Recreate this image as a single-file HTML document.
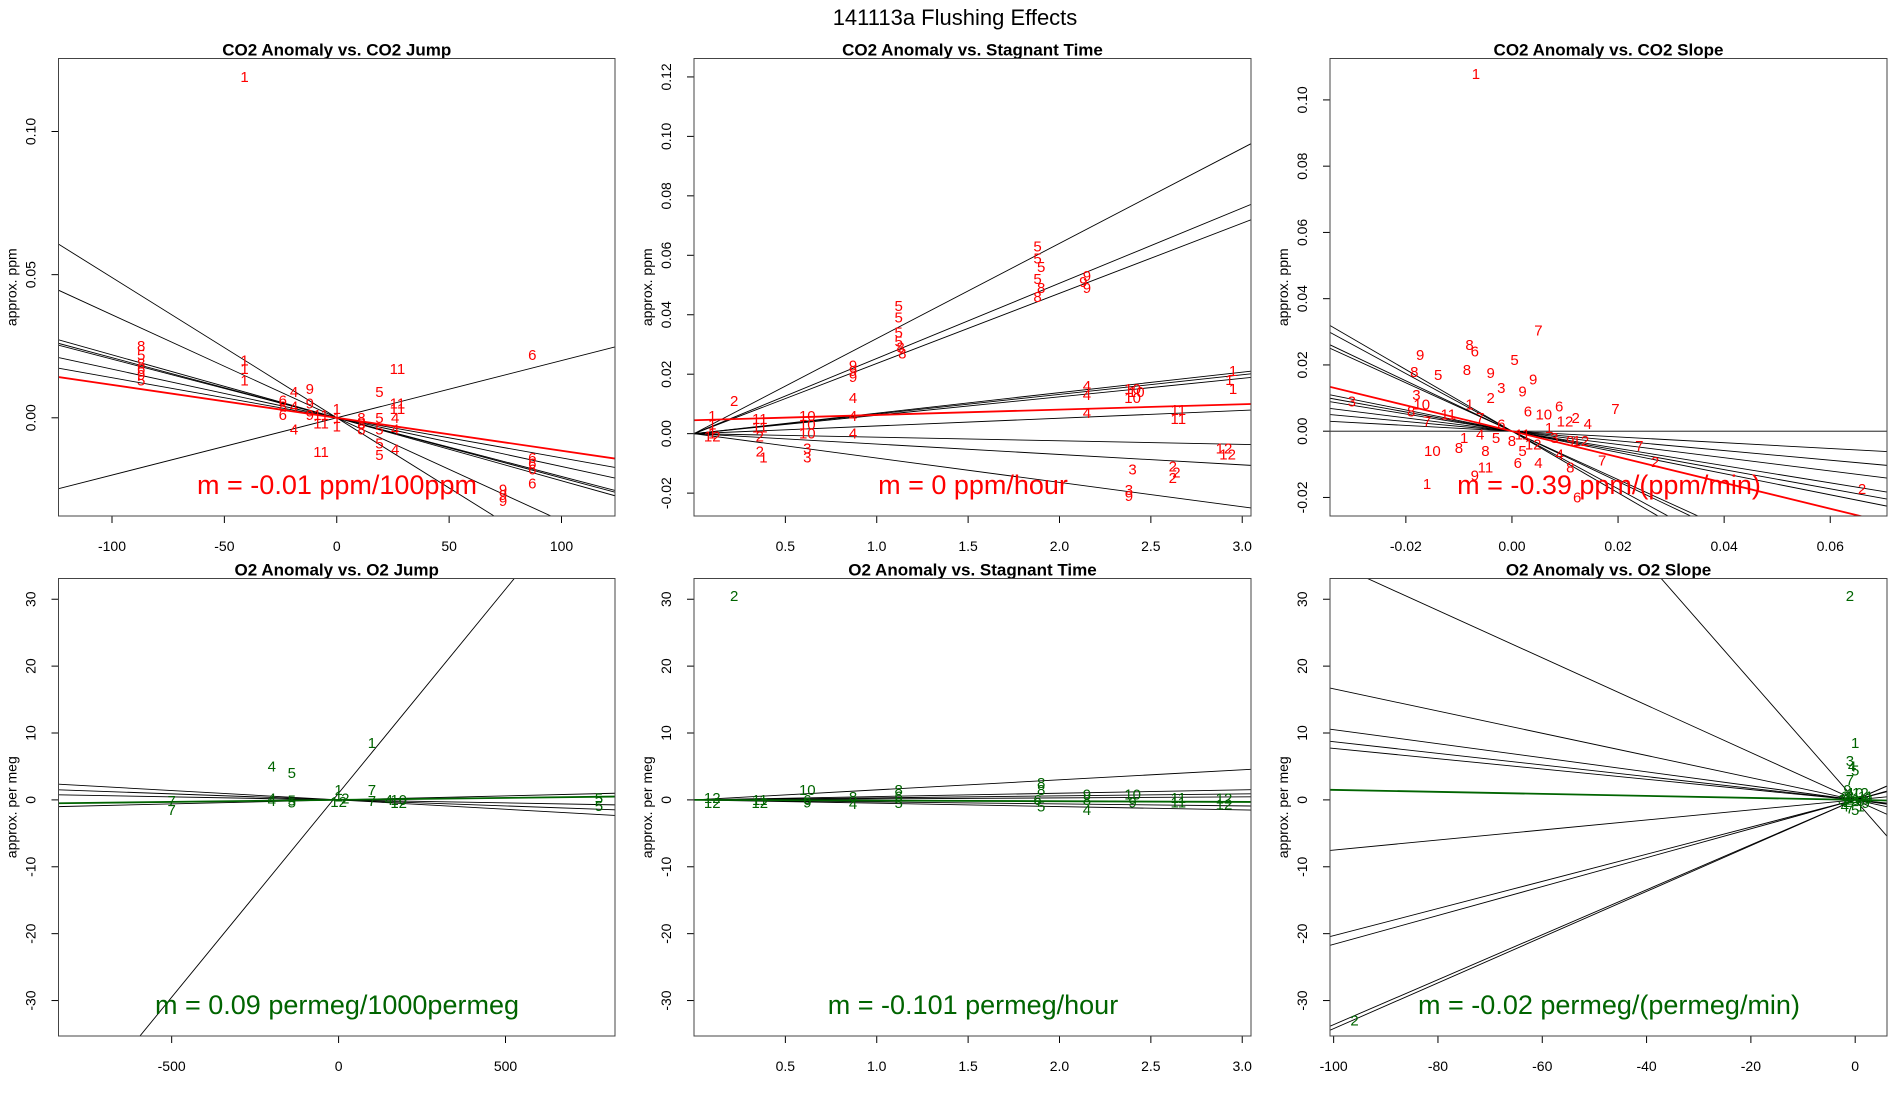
<!DOCTYPE html>
<html><head><meta charset="utf-8"><style>
html,body{margin:0;padding:0;background:#fff;}
svg{display:block;font-family:"Liberation Sans",sans-serif;}
</style></head><body>
<svg id="chart" width="1900" height="1100" viewBox="0 0 1900 1100" xmlns="http://www.w3.org/2000/svg">
<text x="955" y="25" font-size="22" text-anchor="middle">141113a   Flushing Effects</text>
</svg>
<script>
// ---- Panel 1: CO2 anomaly vs CO2 jump ----
const p1Slopes=[-0.00049,-0.00036,-0.00022,-0.00021,-0.000205,-0.00017,-0.00014,0.0002];
const p1Inter=[0,0,0,0,0,0,0,0];
const p1Fit=[0,-0.000115];
const p1Pts=[[-41,0.119,"1"],[-41,0.020,"1"],[-41,0.017,"1"],[-41,0.013,"1"],
[-87,0.025,"8"],[-87,0.022,"5"],[-87,0.019,"8"],[-87,0.017,"6"],[-87,0.015,"9"],[-87,0.013,"5"],
[-24,0.006,"6"],[-24,0.004,"8"],[-24,0.001,"6"],[-19,0.009,"4"],[-19,0.004,"4"],[-19,-0.004,"4"],
[-12,0.010,"9"],[-12,0.005,"9"],[-12,0.001,"9"],[-7,0.001,"11"],[-7,-0.002,"11"],[-7,-0.012,"11"],
[0,0.003,"1"],[0,0,"1"],[0,-0.003,"1"],[11,0,"8"],[11,-0.002,"8"],[11,-0.004,"8"],
[19,0.009,"5"],[19,0,"5"],[19,-0.004,"5"],[19,-0.009,"5"],[19,-0.013,"5"],
[27,0.017,"11"],[27,0.005,"11"],[27,0.003,"11"],[26,0,"4"],[26,-0.004,"4"],[26,-0.011,"4"],
[87,0.022,"6"],[87,-0.014,"6"],[87,-0.016,"6"],[87,-0.018,"6"],[87,-0.023,"6"],
[74,-0.025,"9"],[74,-0.027,"9"],[74,-0.029,"9"]];
// ---- Panel 2: CO2 anomaly vs stagnant time ----
const p2Slopes=[0.032,0.0253,0.0236,0.0069,0.0066,0.0062,0.0026,-0.0012,-0.0035,-0.0082];
const p2Inter=[0,0,0,0,0,0,0,0,0,0];
const p2Fit=[0.0045,0.0018];
const p2Pts=[[1.88,0.063,"5"],[1.88,0.059,"5"],[1.9,0.056,"5"],[1.88,0.052,"5"],[1.9,0.049,"8"],[1.88,0.046,"8"],
[2.15,0.053,"9"],[2.13,0.051,"9"],[2.15,0.049,"9"],[1.12,0.043,"5"],[1.12,0.039,"5"],[1.12,0.034,"5"],[1.12,0.031,"5"],
[1.13,0.029,"8"],[1.14,0.027,"8"],[0.87,0.023,"9"],[0.87,0.021,"9"],[0.87,0.019,"9"],
[0.1,0.006,"1"],[0.1,0.003,"1"],[0.1,0,"1"],[0.1,-0.001,"12"],[0.22,0.011,"2"],[0.36,0.005,"11"],[0.36,0.002,"11"],
[0.36,-0.001,"2"],[0.36,-0.006,"2"],[0.38,-0.008,"1"],[0.62,0.006,"10"],[0.62,0.003,"10"],[0.62,0,"10"],
[0.62,-0.005,"3"],[0.62,-0.008,"3"],[0.87,0.012,"4"],[0.87,0.006,"4"],[0.87,0,"4"],
[2.15,0.016,"4"],[2.15,0.013,"4"],[2.15,0.007,"4"],[2.4,0.015,"10"],[2.42,0.014,"10"],[2.4,0.012,"10"],
[2.65,0.008,"11"],[2.65,0.005,"11"],[2.95,0.021,"1"],[2.93,0.018,"1"],[2.95,0.015,"1"],
[2.4,-0.012,"3"],[2.38,-0.019,"3"],[2.38,-0.021,"9"],[2.62,-0.011,"2"],[2.64,-0.013,"2"],[2.62,-0.015,"2"],
[2.9,-0.005,"12"],[2.92,-0.007,"12"]];
// ---- Panel 3: CO2 anomaly vs CO2 slope ----
const p3Slopes=[-0.93,-0.87,-0.76,-0.73,-0.32,-0.29,-0.26,-0.2,-0.146,-0.087,0];
const p3Inter=[0,0,0,0,0,0,0,0,0,0,0];
const p3Fit=[0,-0.39];
const p3Pts=[[-0.0068,0.1078,"1"],[0.005,0.0304,"7"],[-0.0173,0.023,"9"],[-0.008,0.026,"8"],[-0.007,0.024,"6"],
[0.0005,0.0215,"5"],[0.004,0.0156,"9"],[-0.0184,0.0178,"8"],[-0.0139,0.017,"5"],[-0.0085,0.0185,"8"],[-0.004,0.0175,"9"],
[-0.0302,0.0089,"3"],[0.0195,0.0067,"7"],[-0.015,-0.006,"10"],[-0.016,-0.016,"1"],[0.066,-0.0174,"2"],
[0.027,-0.0093,"2"],[0.024,-0.0044,"7"],[0.017,-0.0089,"7"],[0.0143,0.0022,"4"],[0.0089,0.0074,"6"],
[-0.007,-0.0133,"9"],[0.0123,-0.02,"6"],[0.0011,-0.0096,"6"],[0.005,-0.0096,"4"],[-0.005,-0.006,"8"],
[-0.018,0.011,"3"],[-0.017,0.008,"10"],[-0.019,0.006,"8"],[-0.012,0.005,"11"],[-0.016,0.003,"7"],
[-0.008,0.008,"1"],[-0.004,0.01,"2"],[-0.002,0.013,"3"],[0.002,0.012,"9"],[-0.006,0.004,"7"],
[0.003,0.006,"6"],[0.006,0.005,"10"],[0.01,0.003,"12"],[0.012,0.004,"2"],[-0.009,-0.002,"1"],
[-0.006,-0.001,"4"],[-0.003,-0.002,"5"],[0,-0.003,"8"],[0.002,-0.001,"11"],[0.004,-0.004,"12"],
[0.008,-0.002,"3"],[0.011,-0.003,"9"],[0.013,-0.003,"12"],[-0.01,-0.005,"8"],[0.002,-0.006,"5"],
[0.009,-0.007,"4"],[-0.005,-0.011,"11"],[0.011,-0.011,"8"],[0.007,0.001,"1"],[-0.002,0.002,"6"]];
// ---- Panel 4: O2 anomaly vs O2 jump ----
const p4Slopes=[0.061,-0.0028,-0.0018,-0.0009,0.0006,0.0012];
const p4Inter=[1,0,0,0,0,0];
const p4Fit=[0,0.0006];
const p4Pts=[[100,8.5,"1"],[-200,5,"4"],[-140,4,"5"],[0,1.5,"1"],[100,1.5,"7"],[-500,-0.2,"7"],[-500,-1.5,"7"],
[-200,0.2,"4"],[-200,-0.2,"4"],[-140,-0.1,"5"],[-140,-0.4,"5"],[0,0.5,"1"],[0,-0.3,"12"],[20,0.2,"2"],
[100,-0.2,"7"],[150,0,"4"],[180,0,"10"],[180,-0.5,"12"],[780,0.2,"5"],[780,-0.9,"5"]];
// ---- Panel 5: O2 anomaly vs stagnant time ----
const p5Slopes=[1.5,0.5,0.3,0.15,-0.3,-0.5];
const p5Inter=[0,0,0,0,0,0];
const p5Fit=[0,-0.101];
const p5Pts=[[0.22,30.5,"2"],[0.62,1.5,"10"],[1.9,2.5,"8"],[1.9,1.5,"8"],[1.9,-1,"5"],[2.15,-1.5,"4"],
[0.1,0.3,"12"],[0.1,-0.5,"12"],[0.36,0,"11"],[0.36,-0.5,"12"],[0.62,0,"6"],[0.62,-0.4,"9"],[0.87,0.4,"8"],
[0.87,-0.6,"4"],[1.12,1.5,"8"],[1.12,0.5,"6"],[1.12,-0.5,"5"],[1.88,0,"6"],[2.15,0.8,"9"],[2.15,0,"8"],
[2.4,0.8,"10"],[2.4,-0.4,"9"],[2.65,0.3,"11"],[2.65,-0.4,"11"],[2.9,0.2,"12"],[2.9,-0.7,"12"]];
// ---- Panel 6: O2 anomaly vs O2 slope ----
const p6Slopes=[-0.89,-0.354,-0.166,-0.105,-0.087,-0.077,0.075,0.203,0.216,0.336,0.342];
const p6Inter=[0,0,0,0,0,0,0,0,0,0,0];
const p6Fit=[0,-0.015];
const p6Pts=[[-1,30.5,"2"],[-96,-33,"2"],[0,8.5,"1"],[-1,5.8,"3"],[-0.6,5,"4"],[0,4.4,"5"],[-1,3,"7"],
[-1.5,1.5,"9"],[-2,0.5,"6"],[-1,0.5,"8"],[0,1,"10"],[1,1,"12"],[2,0.5,"11"],[-2.5,0,"3"],[-1.5,-0.3,"2"],
[0,0,"6"],[1,-0.2,"8"],[2,-0.5,"9"],[-2,-1,"4"],[-1,-1.3,"7"],[0,-1.5,"5"],[1,-1,"1"],[2.5,0.2,"0"],[-0.5,0.3,"11"]];

const panels=[
 {L:58.5,T:58.5,R:615,B:516,xlim:[-123.8,123.8],ylim:[-0.0343,0.1255],xt:[-100,-50,0,50,100],xl:["-100","-50","0","50","100"],
  yt:[0,0.05,0.1],yl:["0.00","0.05","0.10"],title:"CO2 Anomaly vs. CO2 Jump",ylab:"approx. ppm",col:"#ff0000",
  m:"m = -0.01 ppm/100ppm",mx:337,slopes:p1Slopes,inter:p1Inter,fit:p1Fit,pts:p1Pts,id:"co2-jump"},
 {L:694,T:58.5,R:1251,B:516,xlim:[0,3.048],ylim:[-0.0277,0.1262],xt:[0.5,1,1.5,2,2.5,3],xl:["0.5","1.0","1.5","2.0","2.5","3.0"],
  yt:[-0.02,0,0.02,0.04,0.06,0.08,0.1,0.12],yl:["-0.02","0.00","0.02","0.04","0.06","0.08","0.10","0.12"],title:"CO2 Anomaly vs. Stagnant Time",ylab:"approx. ppm",col:"#ff0000",
  m:"m = 0 ppm/hour",mx:973,slopes:p2Slopes,inter:p2Inter,fit:p2Fit,pts:p2Pts,id:"co2-stagnant"},
 {L:1330,T:58.5,R:1887,B:516,xlim:[-0.0343,0.0707],ylim:[-0.0256,0.1125],xt:[-0.02,0,0.02,0.04,0.06],xl:["-0.02","0.00","0.02","0.04","0.06"],
  yt:[-0.02,0,0.02,0.04,0.06,0.08,0.1],yl:["-0.02","0.00","0.02","0.04","0.06","0.08","0.10"],title:"CO2 Anomaly vs. CO2 Slope",ylab:"approx. ppm",col:"#ff0000",
  m:"m = -0.39 ppm/(ppm/min)",mx:1609,slopes:p3Slopes,inter:p3Inter,fit:p3Fit,pts:p3Pts,id:"co2-slope"},
 {L:58.5,T:578.5,R:615,B:1036,xlim:[-839,828],ylim:[-35.3,33.1],xt:[-500,0,500],xl:["-500","0","500"],
  yt:[-30,-20,-10,0,10,20,30],yl:["-30","-20","-10","0","10","20","30"],title:"O2 Anomaly vs. O2 Jump",ylab:"approx. per meg",col:"#006400",
  m:"m = 0.09 permeg/1000permeg",mx:337,slopes:p4Slopes,inter:p4Inter,fit:p4Fit,pts:p4Pts,id:"o2-jump"},
 {L:694,T:578.5,R:1251,B:1036,xlim:[0,3.048],ylim:[-35.3,33.1],xt:[0.5,1,1.5,2,2.5,3],xl:["0.5","1.0","1.5","2.0","2.5","3.0"],
  yt:[-30,-20,-10,0,10,20,30],yl:["-30","-20","-10","0","10","20","30"],title:"O2 Anomaly vs. Stagnant Time",ylab:"approx. per meg",col:"#006400",
  m:"m = -0.101 permeg/hour",mx:973,slopes:p5Slopes,inter:p5Inter,fit:p5Fit,pts:p5Pts,id:"o2-stagnant"},
 {L:1330,T:578.5,R:1887,B:1036,xlim:[-100.7,6.1],ylim:[-35.3,33.1],xt:[-100,-80,-60,-40,-20,0],xl:["-100","-80","-60","-40","-20","0"],
  yt:[-30,-20,-10,0,10,20,30],yl:["-30","-20","-10","0","10","20","30"],title:"O2 Anomaly vs. O2 Slope",ylab:"approx. per meg",col:"#006400",
  m:"m = -0.02 permeg/(permeg/min)",mx:1609,slopes:p6Slopes,inter:p6Inter,fit:p6Fit,pts:p6Pts,id:"o2-slope"}
];
const NS="http://www.w3.org/2000/svg";
const svg=document.getElementById('chart');
function mk(tag,attrs,parent){const e=document.createElementNS(NS,tag);for(const k in attrs)e.setAttribute(k,attrs[k]);(parent||svg).appendChild(e);return e;}
panels.forEach((p,i)=>{
  const sx=v=>p.L+(v-p.xlim[0])/(p.xlim[1]-p.xlim[0])*(p.R-p.L);
  const sy=v=>p.B-(v-p.ylim[0])/(p.ylim[1]-p.ylim[0])*(p.B-p.T);
  const g=mk('g',{});
  
  
  const cp=mk('clipPath',{id:'clip'+i},g);
  mk('rect',{x:p.L,y:p.T,width:p.R-p.L,height:p.B-p.T},cp);
  const t=mk('text',{x:(p.L+p.R)/2,y:p.T-3,'font-size':17,'font-weight':'bold','text-anchor':'middle'},g);
  t.textContent=p.title;
  
  
  const yl=mk('text',{x:p.L-42,y:(p.T+p.B)/2,'font-size':14,'text-anchor':'middle',transform:`rotate(-90 ${p.L-42} ${(p.T+p.B)/2})`},g);
  yl.textContent=p.ylab;
  
  
  const xa=mk('g',{stroke:'#000','stroke-width':1},g);
  
  
  mk('line',{x1:sx(p.xt[0]),x2:sx(p.xt[p.xt.length-1]),y1:p.B,y2:p.B},xa);
  p.xt.forEach((v,j)=>{
    mk('line',{x1:sx(v),x2:sx(v),y1:p.B,y2:p.B+7},xa);
    const tl=mk('text',{x:sx(v),y:p.B+35,'font-size':14,'text-anchor':'middle',stroke:'none'},g);
    tl.textContent=p.xl[j];
    
    
  });
  const ya=mk('g',{stroke:'#000','stroke-width':1},g);
  
  
  mk('line',{x1:p.L,x2:p.L,y1:sy(p.yt[0]),y2:sy(p.yt[p.yt.length-1])},ya);
  p.yt.forEach((v,j)=>{
    mk('line',{x1:p.L-7,x2:p.L,y1:sy(v),y2:sy(v)},ya);
    const x=p.L-23,y=sy(v);
    const tl=mk('text',{x:x,y:y,'font-size':14,'text-anchor':'middle',transform:`rotate(-90 ${x} ${y})`},g);
    tl.textContent=p.yl[j];
    
    
  });
  const plot=mk('g',{'clip-path':`url(#clip${i})`},g);
  
  
  p.slopes.forEach((b,j)=>{
    const a=p.inter[j];
    const l=mk('line',{x1:sx(p.xlim[0]),y1:sy(a+b*p.xlim[0]),x2:sx(p.xlim[1]),y2:sy(a+b*p.xlim[1]),stroke:'#000','stroke-width':0.9},plot);
    
    
  });
  p.pts.forEach(q=>{
    const tx=mk('text',{x:sx(q[0]),y:sy(q[1])+5,'font-size':15,'text-anchor':'middle',fill:p.col},plot);
    tx.textContent=q[2];
    
    
  });
  const f=p.fit;
  const fl=mk('line',{x1:sx(p.xlim[0]),y1:sy(f[0]+f[1]*p.xlim[0]),x2:sx(p.xlim[1]),y2:sy(f[0]+f[1]*p.xlim[1]),stroke:p.col,'stroke-width':1.8},plot);
  
  
  mk('rect',{x:p.L,y:p.T,width:p.R-p.L,height:p.B-p.T,fill:'none',stroke:'#444','stroke-width':1},g);
  const mt=mk('text',{x:p.mx,y:p.B-22,'font-size':27,'text-anchor':'middle',fill:p.col},g);
  mt.textContent=p.m;
  
  
});
</script>
</body></html>
